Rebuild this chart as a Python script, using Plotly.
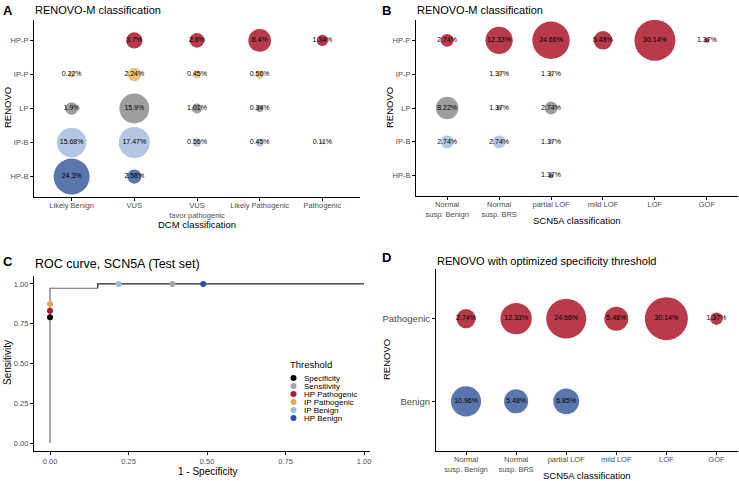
import plotly.graph_objects as go

W, H = 739, 481
FONT = "Liberation Sans, Arial, sans-serif"

# ---------------- data ----------------
renovo_rows = ["HP-B", "IP-B", "LP", "IP-P", "HP-P"]          # bottom -> top
dcm_cats = ["Likely Benign", "VUS", "VUS<br>favor pathogenic", "Likely Pathogenic", "Pathogenic"]
scn_cats = ["Normal<br>susp. Benign", "Normal<br>susp. BRS", "partial LOF", "mild LOF", "LOF", "GOF"]

# Panel A: (row, col, percent)
a_row = ["HP-P", "HP-P", "HP-P", "HP-P",
         "IP-P", "IP-P", "IP-P", "IP-P",
         "LP", "LP", "LP", "LP",
         "IP-B", "IP-B", "IP-B", "IP-B", "IP-B",
         "HP-B", "HP-B"]
a_col = [1, 2, 3, 4,
         0, 1, 2, 3,
         0, 1, 2, 3,
         0, 1, 2, 3, 4,
         0, 1]
a_val = [3.7, 2.8, 8.4, 1.34,
         0.22, 2.24, 0.45, 0.56,
         1.9, 15.9, 1.01, 0.34,
         15.68, 17.47, 0.56, 0.45, 0.11,
         24.3, 2.58]

# Panel B
b_row = ["HP-P"] * 6 + ["IP-P"] * 2 + ["LP"] * 3 + ["IP-B"] * 3 + ["HP-B"]
b_col = [0, 1, 2, 3, 4, 5, 1, 2, 0, 1, 2, 0, 1, 2, 2]
b_val = [2.74, 12.33, 24.66, 5.48, 30.14, 1.37,
         1.37, 1.37,
         8.22, 1.37, 2.74,
         2.74, 2.74, 1.37,
         1.37]

# Panel C: ROC curve and thresholds
roc_fpr = [0.0, 0.0, 0.152, 0.152, 1.0]
roc_tpr = [0.0, 0.973, 0.973, 1.0, 1.0]
thr_names = ["Specificity", "Sensitivity", "HP Pathogenic", "IP Pathogenic", "IP Benign", "HP Benign"]
thr_fpr = [0.0, 0.39, 0.0, 0.0, 0.218, 0.488]
thr_tpr = [0.79, 1.0, 0.832, 0.874, 1.0, 1.0]
thr_colors = ["#000000", "#A6A6A6", "#B2182B", "#E6A64C", "#9DBDE2", "#2C4F9E"]

# Panel D
d_rows = ["Benign", "Pathogenic"]
d_row = ["Pathogenic"] * 6 + ["Benign"] * 3
d_col = [0, 1, 2, 3, 4, 5, 0, 1, 2]
d_val = [2.74, 12.33, 24.66, 5.48, 30.14, 1.37, 10.96, 5.48, 6.85]

row_colors = {"HP-P": "#B83A4B", "IP-P": "#EBC27C", "LP": "#9E9E9E",
              "IP-B": "#B3C7E2", "HP-B": "#5B75AD",
              "Pathogenic": "#B83A4B", "Benign": "#5B75AD"}


# ---------------- helpers ----------------
def px(x):
    return x / W


def py(y):
    return 1 - y / H


def sizes(vals, dmin, dmax):
    lo, hi = min(vals), max(vals)
    return [dmin + (dmax - dmin) * ((v - lo) / (hi - lo)) ** 0.5 for v in vals]


fig = go.Figure()

tickfont = dict(family=FONT, size=7.5, color="#4D4D4D")
axis_common = dict(showline=True, linecolor="black", linewidth=1.1, ticks="outside",
                   ticklen=3, tickcolor="black", showgrid=False, zeroline=False,
                   tickfont=tickfont)
xax_common = dict(axis_common, ticklabelstandoff=-2)
yax_common = dict(axis_common)


def bubble(xaxis, yaxis, cats, rows, cols, vals, dmin, dmax):
    fig.add_trace(go.Scatter(
        x=[cats[c] for c in cols], y=rows, mode="markers+text",
        text=[f"{v:g}%" for v in vals], textposition="middle center",
        textfont=dict(family=FONT, size=7, color="black"),
        marker=dict(size=sizes(vals, dmin, dmax), color=[row_colors[r] for r in rows],
                    opacity=1, line=dict(width=0)),
        xaxis=xaxis, yaxis=yaxis, showlegend=False, hoverinfo="skip", cliponaxis=False))


bubble("x", "y", dcm_cats, a_row, a_col, a_val, 4, 36)
bubble("x2", "y2", scn_cats, b_row, b_col, b_val, 5, 41)
bubble("x4", "y4", scn_cats, d_row, d_col, d_val, 12.5, 43)

# ROC
fig.add_trace(go.Scatter(x=roc_fpr[:3], y=roc_tpr[:3], mode="lines",
                         line=dict(color="#6E6E6E", width=1.2, shape="linear"),
                         xaxis="x3", yaxis="y3", showlegend=False, hoverinfo="skip"))
fig.add_trace(go.Scatter(x=roc_fpr[2:], y=roc_tpr[2:], mode="lines",
                         line=dict(color="#222222", width=1.2),
                         xaxis="x3", yaxis="y3", showlegend=False, hoverinfo="skip"))
fig.add_trace(go.Scatter(x=thr_fpr, y=thr_tpr, mode="markers",
                         marker=dict(size=6, color=thr_colors, opacity=1),
                         xaxis="x3", yaxis="y3", showlegend=False, hoverinfo="skip", cliponaxis=False))

layout = dict(width=W, height=H, margin=dict(l=0, r=0, t=0, b=0),
              paper_bgcolor="white", plot_bgcolor="white", showlegend=False,
              font=dict(family=FONT))

layout["xaxis"] = dict(xax_common, domain=[px(34), px(360)], anchor="y", type="category",
                       categoryorder="array", categoryarray=dcm_cats, range=[-0.6, 4.6])
layout["yaxis"] = dict(yax_common, domain=[py(197), py(20)], anchor="x", type="category",
                       categoryorder="array", categoryarray=renovo_rows, range=[-0.6, 4.6])
layout["xaxis2"] = dict(xax_common, domain=[px(416), px(738)], anchor="y2", type="category",
                        categoryorder="array", categoryarray=scn_cats, range=[-0.6, 5.6])
layout["yaxis2"] = dict(yax_common, domain=[py(196), py(20)], anchor="x2", type="category",
                        categoryorder="array", categoryarray=renovo_rows, range=[-0.6, 4.6])
layout["xaxis3"] = dict(axis_common, domain=[px(34), px(370)], anchor="y3",
                        range=[-0.051, 1.019], tickvals=[0, 0.25, 0.5, 0.75, 1.0],
                        ticktext=["0.00", "0.25", "0.50", "0.75", "1.00"])
layout["yaxis3"] = dict(yax_common, domain=[py(451), py(276)], anchor="x3",
                        range=[-0.05, 1.05], tickvals=[0, 0.25, 0.5, 0.75, 1.0],
                        ticktext=["0.00", "0.25", "0.50", "0.75", "1.00"])
layout["xaxis4"] = dict(xax_common, domain=[px(436), px(738)], anchor="y4", type="category",
                        categoryorder="array", categoryarray=scn_cats, range=[-0.6, 5.43])
layout["yaxis4"] = dict(yax_common, domain=[py(451), py(269)], anchor="x4", type="category",
                        categoryorder="array", categoryarray=d_rows, range=[-0.6, 1.6],
                        tickfont=dict(family=FONT, size=9.5, color="#4D4D4D"))

annotations = []


def ann(text, x, y, size, xanchor="left", yanchor="middle", bold=False, angle=0, color="black"):
    annotations.append(dict(text=f"<b>{text}</b>" if bold else text, x=px(x), y=py(y),
                            xref="paper", yref="paper", showarrow=False,
                            xanchor=xanchor, yanchor=yanchor, textangle=angle,
                            font=dict(family=FONT, size=size, color=color)))


# panel letters and titles
ann("A", 1, 10, 13, bold=True)
ann("RENOVO-M classification", 33, 10, 11)
ann("B", 380, 10, 13, bold=True)
ann("RENOVO-M classification", 415, 10, 11)
ann("C", 1, 261, 13, bold=True)
ann("ROC curve, SCN5A (Test set)", 33, 264, 12.5)
ann("D", 380, 257, 13, bold=True)
ann("RENOVO with optimized specificity threshold", 435, 261, 11)

# axis titles
ann("DCM classification", 197, 224, 9.5, xanchor="center")
ann("SCN5A classification", 577, 221, 9.5, xanchor="center")
ann("1 - Specificity", 207, 471, 10, xanchor="center")
ann("SCN5A classification", 587, 475, 9.5, xanchor="center")
ann("RENOVO", 7, 108, 9.5, xanchor="center", angle=-90)
ann("RENOVO", 389, 108, 9.5, xanchor="center", angle=-90)
ann("Sensitivity", 7, 363, 10, xanchor="center", angle=-90)
ann("RENOVO", 386, 360, 9.5, xanchor="center", angle=-90)

# manual legend for panel C
shapes = []
ann("Threshold", 288, 364, 9.5)
for i, (name, col) in enumerate(zip(thr_names, thr_colors)):
    yc = 378 + 8 * i
    shapes.append(dict(type="circle", xref="paper", yref="paper",
                       x0=px(290.5), x1=px(296.5), y0=py(yc + 3), y1=py(yc - 3),
                       fillcolor=col, line=dict(width=0)))
    ann(name, 302, yc, 8)

layout["annotations"] = annotations
layout["shapes"] = shapes
fig.update_layout(**layout)

fig.write_html("out.html", config={"displayModeBar": False},
               post_script="document.body.style.margin='0';document.body.style.padding='0';")
